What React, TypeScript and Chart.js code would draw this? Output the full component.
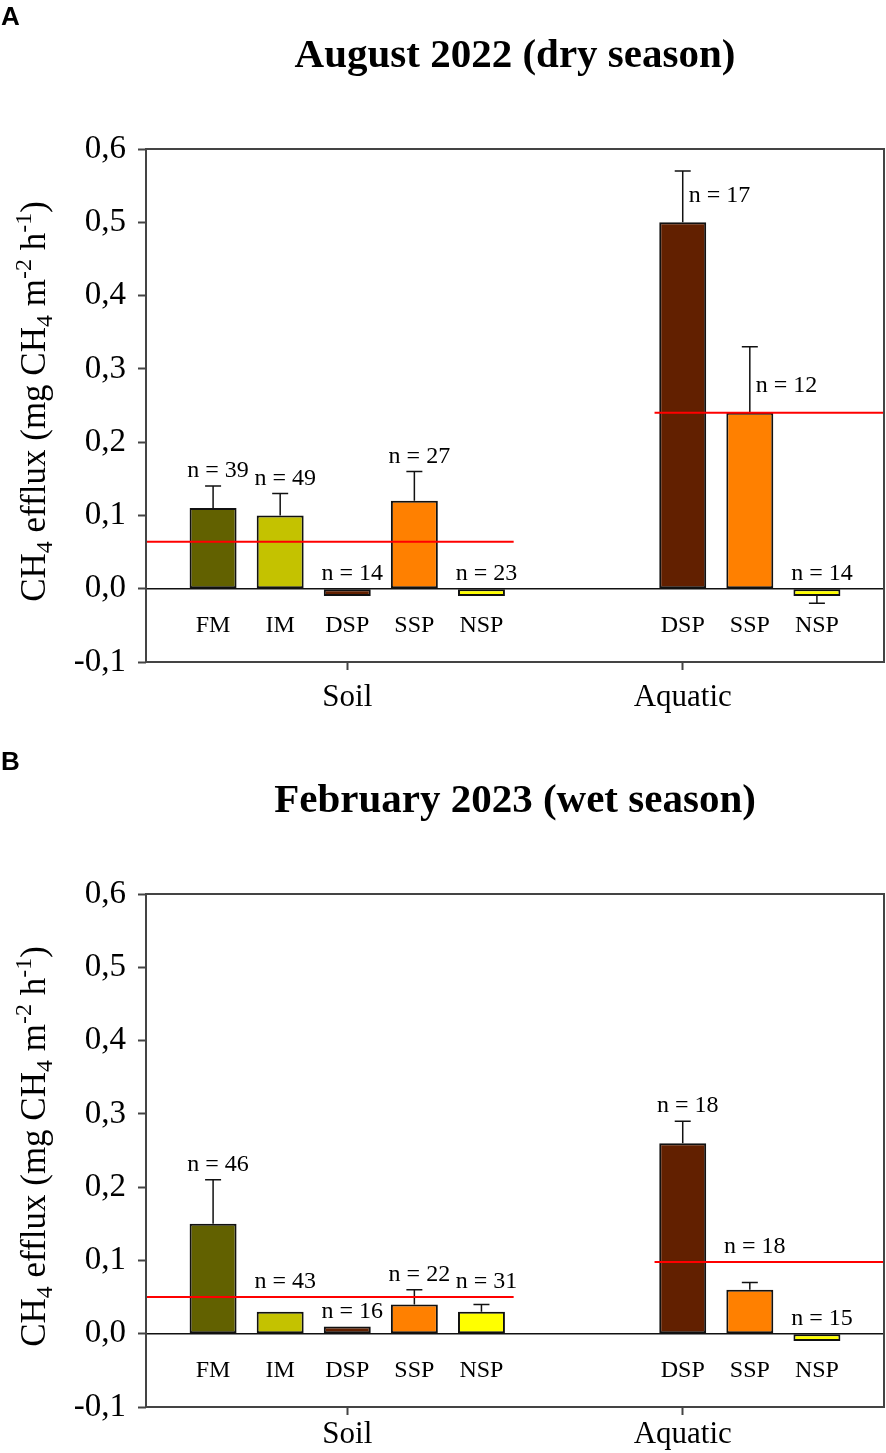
import { useEffect, useRef } from 'react'
import { Chart, registerables } from 'chart.js'
import type { Plugin } from 'chart.js'

Chart.register(...registerables)

const soilSites = ['FM', 'IM', 'DSP', 'SSP', 'NSP']
const aquaticSites = ['DSP', 'SSP', 'NSP']
const groupNames = ['Soil', 'Aquatic']
const yTicks = [-0.1, 0, 0.1, 0.2, 0.3, 0.4, 0.5, 0.6]

const siteColors: Record<string, string> = {
  FM: '#626100',
  IM: '#c4c200',
  DSP: '#622000',
  SSP: '#ff8000',
  NSP: '#ffff00',
}

// August 2022 (dry season)
const augSoilMean = [0.11, 0.1, -0.01, 0.12, -0.01]
const augSoilErr = [0.03, 0.03, 0, 0.04, 0]
const augSoilN = [39, 49, 14, 27, 23]
const augSoilAvg = 0.064
const augAquaticMean = [0.5, 0.24, -0.01]
const augAquaticErr = [0.07, 0.09, 0.01]
const augAquaticN = [17, 12, 14]
const augAquaticAvg = 0.24

// February 2023 (wet season)
const febSoilMean = [0.15, 0.03, 0.01, 0.04, 0.03]
const febSoilErr = [0.06, 0, 0, 0.02, 0.01]
const febSoilN = [46, 43, 16, 22, 31]
const febSoilAvg = 0.05
const febAquaticMean = [0.26, 0.06, -0.01]
const febAquaticErr = [0.03, 0.01, 0]
const febAquaticN = [18, 18, 15]
const febAquaticAvg = 0.098

interface Panel {
  letter: string
  title: string
  soilMean: number[]
  soilErr: number[]
  soilN: number[]
  soilAvg: number
  aquaticMean: number[]
  aquaticErr: number[]
  aquaticN: number[]
  aquaticAvg: number
  // aquatic bars whose n label sits beside the error bar
  sideLabels: number[]
  height: number
  groupPadding: number
}

const panels: Panel[] = [
  {
    letter: 'A',
    title: 'August 2022 (dry season)',
    soilMean: augSoilMean,
    soilErr: augSoilErr,
    soilN: augSoilN,
    soilAvg: augSoilAvg,
    aquaticMean: augAquaticMean,
    aquaticErr: augAquaticErr,
    aquaticN: augAquaticN,
    aquaticAvg: augAquaticAvg,
    sideLabels: [0, 1],
    height: 745,
    groupPadding: 9,
  },
  {
    letter: 'B',
    title: 'February 2023 (wet season)',
    soilMean: febSoilMean,
    soilErr: febSoilErr,
    soilN: febSoilN,
    soilAvg: febSoilAvg,
    aquaticMean: febAquaticMean,
    aquaticErr: febAquaticErr,
    aquaticN: febAquaticN,
    aquaticAvg: febAquaticAvg,
    sideLabels: [],
    height: 708,
    groupPadding: 1,
  },
]

const SERIF = "'Liberation Serif', 'Times New Roman', serif"
const AXIS_COLOR = '#444444'
const PLOT_TOP = 149
const PLOT_BOTTOM = 662
const PLOT_LEFT = 146

function PanelChart({ panel }: { panel: Panel }) {
  const canvasRef = useRef<HTMLCanvasElement | null>(null)

  useEffect(() => {
    if (!canvasRef.current) return undefined

    const labels = ['', ...soilSites, '', '', ...aquaticSites, '']
    const soilStart = 1
    const aquaticStart = soilStart + soilSites.length + 2
    const means: (number | null)[] = [null, ...panel.soilMean, null, null, ...panel.aquaticMean, null]
    const errs: (number | null)[] = [null, ...panel.soilErr, null, null, ...panel.aquaticErr, null]
    const ns: (number | null)[] = [null, ...panel.soilN, null, null, ...panel.aquaticN, null]
    const colors = labels.map((l) => siteColors[l] ?? 'transparent')
    const sideSet = new Set(panel.sideLabels.map((i) => aquaticStart + i))
    const groupTicks = [soilStart + 2, aquaticStart]

    const avgFor = (i: number) => (i < aquaticStart ? panel.soilAvg : panel.aquaticAvg)

    const decor: Plugin<'bar'> = {
      id: 'decor',
      beforeDatasetsDraw(chart) {
        const { ctx, chartArea, scales } = chart
        const y0 = scales.y.getPixelForValue(0)
        ctx.save()
        ctx.strokeStyle = '#111'
        ctx.lineWidth = 1.5
        ctx.beginPath()
        ctx.moveTo(chartArea.left, y0)
        ctx.lineTo(chartArea.right, y0)
        ctx.stroke()
        ctx.restore()
      },
      afterDatasetsDraw(chart) {
        const { ctx, chartArea, scales } = chart
        const xs = scales.x
        const ys = scales.y
        const y0 = ys.getPixelForValue(0)
        ctx.save()

        // error bars
        ctx.strokeStyle = '#111'
        ctx.lineWidth = 1.5
        means.forEach((m, i) => {
          const e = errs[i]
          if (m == null || !e) return
          const x = xs.getPixelForValue(i)
          const yStart = ys.getPixelForValue(m)
          const yEnd = ys.getPixelForValue(m >= 0 ? m + e : m - e)
          ctx.beginPath()
          ctx.moveTo(x, yStart)
          ctx.lineTo(x, yEnd)
          ctx.moveTo(x - 8, yEnd)
          ctx.lineTo(x + 8, yEnd)
          ctx.stroke()
        })

        // group means
        ctx.strokeStyle = '#ff0000'
        ctx.lineWidth = 2
        const soilY = ys.getPixelForValue(panel.soilAvg)
        const soilEnd = xs.getPixelForValue(soilStart + soilSites.length - 1 + 0.48)
        ctx.beginPath()
        ctx.moveTo(chartArea.left, soilY)
        ctx.lineTo(soilEnd, soilY)
        ctx.stroke()
        const aqY = ys.getPixelForValue(panel.aquaticAvg)
        const aqStart = xs.getPixelForValue(aquaticStart - 0.42)
        ctx.beginPath()
        ctx.moveTo(aqStart, aqY)
        ctx.lineTo(chartArea.right, aqY)
        ctx.stroke()

        // n labels
        ctx.fillStyle = '#000'
        ctx.font = `24px ${SERIF}`
        ctx.textBaseline = 'middle'
        means.forEach((m, i) => {
          const n = ns[i]
          if (m == null || n == null) return
          const x = xs.getPixelForValue(i)
          const text = `n = ${n}`
          if (sideSet.has(i)) {
            ctx.textAlign = 'left'
            ctx.fillText(text, x + 6, ys.getPixelForValue(m) - 27)
            return
          }
          const top = m > 0 ? m + (errs[i] ?? 0) : 0
          let cy = ys.getPixelForValue(top) - 15
          const lineY = ys.getPixelForValue(avgFor(i))
          if (Math.abs(cy - lineY) < 10) cy = lineY - 15
          ctx.textAlign = 'center'
          ctx.fillText(text, x + 5, cy)
        })

        // site names below the zero line
        ctx.font = `24px ${SERIF}`
        ctx.textAlign = 'center'
        labels.forEach((l, i) => {
          if (!l) return
          ctx.fillText(l, xs.getPixelForValue(i), y0 + 37)
        })
        ctx.restore()
      },
      afterDraw(chart) {
        const { ctx, chartArea } = chart
        ctx.save()
        // frame
        ctx.strokeStyle = AXIS_COLOR
        ctx.lineWidth = 2
        ctx.strokeRect(chartArea.left, chartArea.top, chartArea.right - chartArea.left, chartArea.bottom - chartArea.top)

        // panel letter
        ctx.fillStyle = '#000'
        ctx.font = "bold 26px 'Liberation Sans', Arial, sans-serif"
        ctx.textAlign = 'left'
        ctx.textBaseline = 'alphabetic'
        ctx.fillText(panel.letter, 1, 25)

        // title
        ctx.font = `bold 41px ${SERIF}`
        ctx.textAlign = 'center'
        ctx.fillText(panel.title, (chartArea.left + chartArea.right) / 2, 67)

        // y axis title with sub/superscripts
        const parts: { t: string; size: number; dy: number }[] = [
          { t: 'CH', size: 35, dy: 0 },
          { t: '4', size: 24, dy: 7 },
          { t: ' efflux (mg CH', size: 35, dy: 0 },
          { t: '4', size: 24, dy: 7 },
          { t: ' m', size: 35, dy: 0 },
          { t: '-2', size: 24, dy: -14 },
          { t: ' h', size: 35, dy: 0 },
          { t: '-1', size: 24, dy: -14 },
          { t: ')', size: 35, dy: 0 },
        ]
        let total = 0
        const widths = parts.map((p) => {
          ctx.font = `${p.size}px ${SERIF}`
          const w = ctx.measureText(p.t).width
          total += w
          return w
        })
        ctx.translate(45, (chartArea.top + chartArea.bottom) / 2 - 4)
        ctx.rotate(-Math.PI / 2)
        ctx.textAlign = 'left'
        let u = -total / 2
        parts.forEach((p, k) => {
          ctx.font = `${p.size}px ${SERIF}`
          ctx.fillText(p.t, u, p.dy)
          u += widths[k]
        })
        ctx.restore()
      },
    }

    const chart = new Chart(canvasRef.current, {
      type: 'bar',
      data: {
        labels,
        datasets: [
          {
            data: means,
            backgroundColor: colors,
            borderColor: '#111',
            borderWidth: 2,
            borderSkipped: false,
            categoryPercentage: 1,
            barPercentage: 0.7,
          },
        ],
      },
      options: {
        responsive: true,
        maintainAspectRatio: false,
        animation: false,
        layout: { padding: { top: PLOT_TOP, right: 2, left: 0, bottom: 0 } },
        plugins: {
          legend: { display: false },
          tooltip: { enabled: false },
          title: { display: false },
        },
        scales: {
          x: {
            type: 'category',
            offset: false,
            border: { display: false },
            grid: {
              display: true,
              offset: false,
              drawOnChartArea: false,
              drawTicks: true,
              tickLength: 8,
              tickWidth: 2,
              tickColor: AXIS_COLOR,
            },
            afterBuildTicks: (scale) => {
              scale.ticks = groupTicks.map((v) => ({ value: v }))
            },
            afterFit: (scale) => {
              scale.height = panel.height - PLOT_BOTTOM
            },
            ticks: {
              autoSkip: false,
              maxRotation: 0,
              padding: panel.groupPadding,
              color: '#000',
              font: { family: SERIF, size: 31 },
              callback: (value) => groupNames[groupTicks.indexOf(Number(value))] ?? '',
            },
          },
          y: {
            min: -0.1,
            max: 0.6,
            border: { display: false },
            grid: {
              display: true,
              drawOnChartArea: false,
              drawTicks: true,
              tickLength: 8,
              tickWidth: 2,
              tickColor: AXIS_COLOR,
            },
            afterBuildTicks: (scale) => {
              scale.ticks = yTicks.map((v) => ({ value: v }))
            },
            afterFit: (scale) => {
              scale.width = PLOT_LEFT
            },
            ticks: {
              padding: 12,
              color: '#000',
              font: { family: SERIF, size: 33 },
              callback: (value) => Number(value).toFixed(1).replace('.', ','),
            },
          },
        },
      },
      plugins: [decor],
    })

    return () => {
      chart.destroy()
    }
  }, [panel])

  return (
    <div style={{ position: 'relative', width: 886, height: panel.height }}>
      <canvas ref={canvasRef} />
    </div>
  )
}

export default function App() {
  return (
    <div style={{ position: 'absolute', left: 0, top: 0, width: 886, height: 1453, background: '#fff' }}>
      {panels.map((p) => (
        <PanelChart key={p.letter} panel={p} />
      ))}
    </div>
  )
}
